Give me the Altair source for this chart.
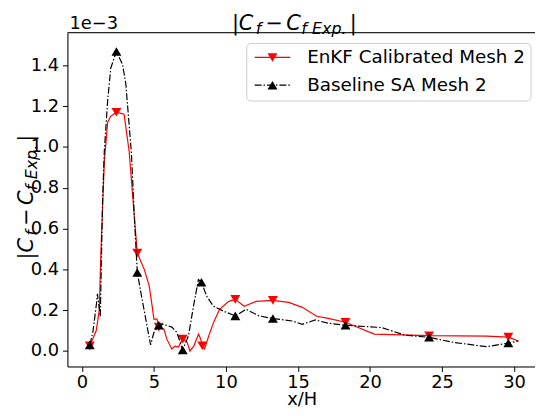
import altair as alt
import pandas as pd

# ---------------- data (y in units of 1e-3) ----------------
enkf_x = [0.55, 1.0, 1.21, 1.33, 1.56, 1.79, 2.0, 2.4, 2.93, 3.28, 3.64, 3.85, 4.33, 4.67,
          4.88, 5.0, 5.22, 5.34, 5.7, 5.9, 6.25, 6.46, 6.7, 7.0, 7.3, 7.5, 7.77, 8.1, 8.25,
          8.36, 8.52, 8.8, 9.14, 9.56, 10.2, 10.65, 11.27, 12.1, 13.26, 14.36, 15.3, 16.3,
          17.1, 18.3, 20.3, 24.1, 28.1, 29.6, 30.3]
enkf_y = [0.025, 0.10, 0.20, 0.50, 0.93, 1.12, 1.15, 1.17, 1.16, 0.98, 0.66, 0.48, 0.40, 0.32,
          0.22, 0.156, 0.156, 0.117, 0.107, 0.058, 0.01, 0.024, 0.019, 0.058, 0.044, 0.0, 0.024,
          0.083, 0.058, 0.026, 0.01, 0.073, 0.14, 0.204, 0.243, 0.253, 0.219, 0.243, 0.248,
          0.238, 0.214, 0.17, 0.16, 0.141, 0.083, 0.075, 0.073, 0.068, 0.049]
enkf_mk_x = [0.55, 2.4, 3.85, 5.34, 7.0, 8.36, 10.65, 13.26, 18.3, 24.1, 29.6]
enkf_mk_y = [0.025, 1.17, 0.48, 0.117, 0.058, 0.026, 0.253, 0.248, 0.141, 0.075, 0.068]

base_x = [0.55, 0.76, 1.03, 1.08, 1.28, 1.44, 1.56, 1.79, 2.01, 2.4, 2.82, 3.05, 3.28, 3.44,
          3.67, 3.85, 4.19, 4.53, 4.77, 5.0, 5.34, 5.68, 6.25, 6.6, 7.0, 7.4, 7.75, 8.09,
          8.3, 8.66, 9.12, 9.8, 10.65, 11.4, 12.3, 13.26, 14.6, 15.3, 16.2, 17.1, 18.3,
          20.8, 22.4, 24.1, 25.8, 28.1, 29.6, 30.3]
base_y = [0.03, 0.09, 0.24, 0.28, 0.17, 0.74, 0.98, 1.225, 1.387, 1.468, 1.405, 1.31, 1.11,
          0.97, 0.62, 0.385, 0.25, 0.12, 0.03, 0.09, 0.126, 0.13, 0.117, 0.09, 0.005, 0.075,
          0.22, 0.35, 0.337, 0.269, 0.22, 0.196, 0.172, 0.204, 0.172, 0.159, 0.147, 0.131,
          0.152, 0.136, 0.126, 0.115, 0.078, 0.067, 0.042, 0.021, 0.039, 0.049]
base_mk_x = [0.55, 2.4, 3.85, 5.34, 7.0, 8.3, 10.65, 13.26, 18.3, 24.1, 29.6]
base_mk_y = [0.03, 1.468, 0.385, 0.126, 0.005, 0.337, 0.172, 0.159, 0.126, 0.067, 0.039]

x_ticks = [0, 5, 10, 15, 20, 25, 30]
y_ticks = [0.0, 0.2, 0.4, 0.6, 0.8, 1.0, 1.2, 1.4]
legend_labels = ["EnKF Calibrated Mesh 2", "Baseline SA Mesh 2"]
offset_text = "1e\u22123"
x_title = "x/H"
# label pieces: |C_f - C_f Exp.|   (text, offset along text, sub?, italic?)
label_pieces = [("|", 0, False, False), ("C", 7, False, True), ("f", 24, True, True),
                ("\u2212", 34, False, False), ("C", 55, False, True), ("f", 70, True, True),
                ("Exp.", 81, True, True), ("|", 119, False, False)]

FONT = "DejaVu Sans"
W, H = 472, 337
MAIN, SUB = 21, 16

xs = alt.Scale(domain=[-1.0, 31.45], nice=False, zero=False)
ys = alt.Scale(domain=[-0.076, 1.56], nice=False, zero=False)

x_axis = alt.Axis(values=x_ticks, title=None, grid=False, labelFontSize=18,
                  labelFont=FONT, labelColor="black", tickColor="black", domainColor="black",
                  tickSize=5, labelPadding=2)
y_axis = alt.Axis(values=y_ticks, format=".1f", title=None, grid=False, labelFontSize=18,
                  labelFont=FONT, labelColor="black", tickColor="black", domainColor="black",
                  tickSize=5, labelPadding=4)

df_enkf = pd.DataFrame({"x": enkf_x, "y": enkf_y})
df_enkf_mk = pd.DataFrame({"x": enkf_mk_x, "y": enkf_mk_y})
df_base = pd.DataFrame({"x": base_x, "y": base_y})
df_base_mk = pd.DataFrame({"x": base_mk_x, "y": base_mk_y})

enc = dict(x=alt.X("x:Q", scale=xs, axis=x_axis), y=alt.Y("y:Q", scale=ys, axis=y_axis))

DASH = [7, 2, 1.5, 2]
MS = 100

red_line = alt.Chart(df_enkf).mark_line(color="red", strokeWidth=1.2).encode(**enc)
red_pts = alt.Chart(df_enkf_mk).mark_point(shape="triangle-down", filled=True, size=MS,
                                            color="red", opacity=1).encode(**enc)
blk_line = alt.Chart(df_base).mark_line(color="black", strokeWidth=1.2,
                                        strokeDash=DASH).encode(**enc)
blk_pts = alt.Chart(df_base_mk).mark_point(shape="triangle-up", filled=True, size=MS,
                                            color="black", opacity=1).encode(**enc)

dummy = pd.DataFrame({"a": [0]})
top_frame = alt.Chart(dummy).mark_rule(color="black", strokeWidth=1).encode(
    x=alt.value(0), x2=alt.value(W), y=alt.value(0))


def piece(text, x, y, size, italic=False, angle=0, align="left"):
    return alt.Chart(pd.DataFrame({"t": [text]})).mark_text(
        x=x, y=y, fontSize=size, font=FONT, fontStyle="italic" if italic else "normal",
        align=align, baseline="alphabetic", angle=angle, color="black").encode(text="t:N")


# title (horizontal)
TX0, TB, SHIFT = 166, -3, 4
title_layers = [piece(t, TX0 + off, TB + (SHIFT if sub else 0), SUB if sub else MAIN, it)
                for t, off, sub, it in label_pieces]
# y label (rotated, reading upward)
Y0, XB = 229, -35
ylab_layers = [piece(t, XB + (SHIFT if sub else 0), Y0 - off, SUB if sub else MAIN, it, 270)
               for t, off, sub, it in label_pieces]
offset_layer = piece(offset_text, 2, -4, 18)
xtitle_layer = piece(x_title, 237, 375.5, 18, align="center")

# legend
LX0, LX1, LY0, LY1 = 181, 468, 11, 69
leg_box = alt.Chart(dummy).mark_rect(fill="white", fillOpacity=0.8, stroke="#cccccc",
                                     strokeWidth=1, cornerRadius=4).encode(
    x=alt.value(LX0), x2=alt.value(LX1), y=alt.value(LY0), y2=alt.value(LY1))
R1, R2 = 25, 53
leg_l1 = alt.Chart(dummy).mark_rule(color="red", strokeWidth=1.2).encode(
    x=alt.value(189), x2=alt.value(225), y=alt.value(R1))
leg_p1 = alt.Chart(dummy).mark_point(shape="triangle-down", filled=True, size=MS, color="red",
                                     opacity=1).encode(x=alt.value(207), y=alt.value(R1))
leg_l2 = alt.Chart(dummy).mark_rule(color="black", strokeWidth=1.2, strokeDash=DASH).encode(
    x=alt.value(189), x2=alt.value(225), y=alt.value(R2))
leg_p2 = alt.Chart(dummy).mark_point(shape="triangle-up", filled=True, size=MS, color="black",
                                     opacity=1).encode(x=alt.value(207), y=alt.value(R2))
leg_t1 = alt.Chart(pd.DataFrame({"t": [legend_labels[0]]})).mark_text(
    x=242, y=R1, fontSize=18.5, font=FONT, align="left", baseline="middle", color="black"
).encode(text="t:N")
leg_t2 = alt.Chart(pd.DataFrame({"t": [legend_labels[1]]})).mark_text(
    x=242, y=R2, fontSize=18.5, font=FONT, align="left", baseline="middle", color="black"
).encode(text="t:N")

chart = alt.layer(
    red_line, red_pts, blk_line, blk_pts, top_frame,
    leg_box, leg_l1, leg_p1, leg_l2, leg_p2, leg_t1, leg_t2,
    offset_layer, xtitle_layer, *title_layers, *ylab_layers,
).properties(
    width=W, height=H,
    autosize=alt.AutoSizeParams(type="none"),
    padding={"left": 60, "top": 23, "right": 0, "bottom": 40},
).configure_view(stroke=None).configure(background="white")

chart.save("out.html", embed_options={"renderer": "svg", "actions": False})
